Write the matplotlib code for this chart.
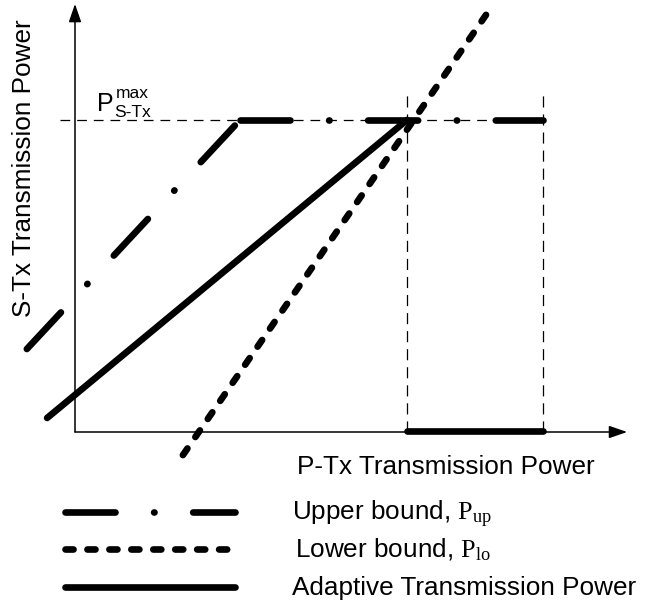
import matplotlib
matplotlib.use('Agg')
import matplotlib.pyplot as plt

plt.rcParams['font.family'] = ['Liberation Sans', 'DejaVu Sans']
plt.rcParams['mathtext.fontset'] = 'custom'
plt.rcParams['mathtext.rm'] = 'Liberation Serif'
plt.rcParams['mathtext.it'] = 'Liberation Serif:italic'
plt.rcParams['lines.scale_dashes'] = False

# data (P_max of S-Tx = 1, cross point of the bounds at P-Tx = 1)
upper_rise_x = [-0.145, 0.497]
upper_rise_y = [0.266, 1.0]
upper_flat_x = [0.497, 1.41]
upper_flat_y = [1.0, 1.0]
lower_x = [0.325, 1.238]
lower_y = [-0.074, 1.337]
adapt_x = [-0.084, 1.0]
adapt_y = [0.045, 1.0]
adapt_zero_x = [1.0, 1.41]
adapt_zero_y = [0.004, 0.004]
p_max = 1.0
x_cross = 1.0
x_end = 1.41
labels = ['Upper bound, $\\mathrm{P}_{\\mathrm{up}}$',
          'Lower bound, $\\mathrm{P}_{\\mathrm{lo}}$',
          'Adaptive Transmission Power']

W, H = 658, 610
X0, Y0, XU, YU = 75, 432, 332, 312


def to_data(px, py):
    return (px - X0) / XU, (Y0 - py) / YU


fig = plt.figure(figsize=(W / 100, H / 100), dpi=100)
ax = fig.add_axes([0, 0, 1, 1])
ax.set_xlim(-X0 / XU, (W - X0) / XU)
ax.set_ylim(-(H - Y0) / YU, Y0 / YU)
ax.axis('off')

lw = 4.8
st_up = dict(color='black', lw=lw, dashes=(36, 27.8, 0.3, 27.8), dash_capstyle='round')
st_lo = dict(color='black', lw=lw, dashes=(5.8, 10.0), dash_capstyle='round')
st_ad = dict(color='black', lw=lw, solid_capstyle='round')

# guides
ax.plot([-0.045, x_end], [p_max, p_max], color='black', lw=0.9, dashes=(7, 5))
for xv in [x_cross, x_end]:
    ax.plot([xv, xv], [0, 1.09], color='black', lw=0.9, dashes=(8, 5))

# axes with arrows
arr = dict(arrowstyle='-|>,head_length=1.1,head_width=0.38', lw=1.1, color='black',
           shrinkA=0, shrinkB=0, mutation_scale=10)
ax.annotate('', xy=(0, 1.372), xytext=(0, 0), arrowprops=arr)
ax.annotate('', xy=(1.663, 0), xytext=(0, 0), arrowprops=arr)

ax.plot(upper_rise_x, upper_rise_y, **st_up)
ax.plot(upper_flat_x, upper_flat_y, **st_up)
ax.plot(lower_x, lower_y, **st_lo)
ax.plot(adapt_x, adapt_y, **st_ad)
ax.plot(adapt_zero_x, adapt_zero_y, **st_ad)

# texts
fig.text(97 / W, 1 - 111 / H, 'P', fontsize=18, va='baseline', ha='left')
fig.text(116 / W, 1 - 98 / H, 'max', fontsize=12.5, va='baseline', ha='left')
fig.text(114 / W, 1 - 117 / H, 'S-Tx', fontsize=12.5, va='baseline', ha='left')
fig.text(446 / W, 1 - 474 / H, 'P-Tx Transmission Power', fontsize=18.8,
         va='baseline', ha='center')
fig.text(24 / W, 1 - 168 / H, 'S-Tx Transmission Power', fontsize=18.8,
         va='center', ha='center', rotation=90)

# legend drawn below the chart
rows_y = [512, 549, 587]
text_x = [292, 295, 292]
for st, lab, ry, tx in zip([st_up, st_lo, st_ad], labels, rows_y, text_x):
    xa, ya = to_data(65, ry)
    xb, _ = to_data(235, ry)
    ax.plot([xa, xb], [ya, ya], **st)
    fig.text(tx / W, 1 - (ry + 8) / H, lab, fontsize=18.8, va='baseline', ha='left')

fig.savefig('out.png', dpi=100)
